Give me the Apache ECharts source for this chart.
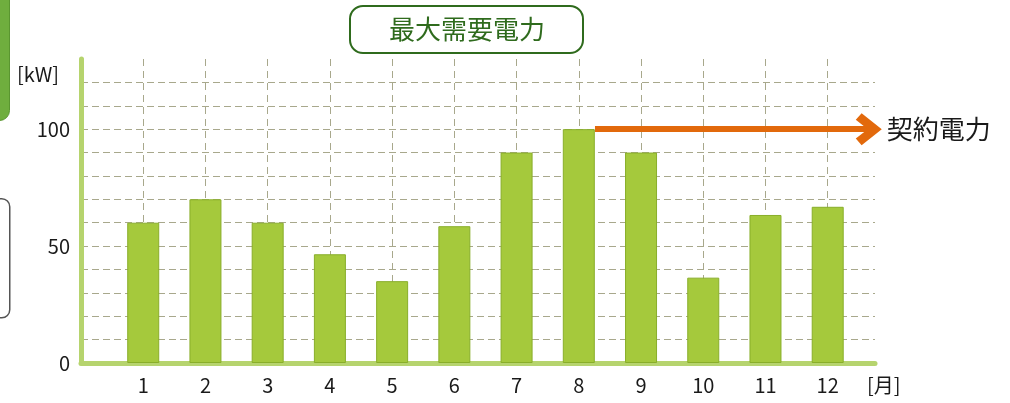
<!DOCTYPE html>
<html>
<head>
<meta charset="utf-8">
<script src="https://cdn.jsdelivr.net/npm/echarts@6/dist/echarts.min.js"></script>
<style>
html,body{margin:0;padding:0;background:#fff;}
#c{width:1010px;height:403px;}
</style>
</head>
<body>
<div id="c"></div>
<script>
// ---- data ----
const months = [1, 2, 3, 4, 5, 6, 7, 8, 9, 10, 11, 12];
const demandKW = [60, 70, 60, 46.5, 35, 58.5, 90, 100, 90, 36.5, 63.3, 66.8];
const yTickLabels = [0, 50, 100];
const contractKW = 100;
const contractFromMonth = 8.26;   // starts at the right edge of the August bar
const contractToMonth = 12.66;
const titleText = '最大需要電力';
const contractLabel = '契約電力';
const yUnit = '[kW]';
const xUnit = '[月]';

const FONT = '"Noto Sans CJK JP", "Noto Sans", sans-serif';
const gridDash = '#a8a88c';

const chart = echarts.init(document.getElementById('c'), null, {renderer: 'canvas'});

// split-line colours: hide the line at the axis maximum
const yLineCount = 14; // 0..130 step 10
const yLineColors = Array.from({length: yLineCount}, (_, i) => i === yLineCount - 1 ? 'rgba(0,0,0,0)' : gridDash);
const xLineCount = 14; // 0..12 plus max
const xLineColors = Array.from({length: xLineCount}, (_, i) => i === xLineCount - 1 ? 'rgba(0,0,0,0)' : gridDash);

const chevron = 'path://M5,0 L10,6.2 L7.9,8 L5,4.3 L2.1,8 L0,6.2 Z';

chart.setOption({
  animation: false,
  backgroundColor: '#ffffff',
  grid: {left: 81, right: 135, top: 59, bottom: 40, containLabel: false},
  xAxis: {
    type: 'value',
    min: 0,
    max: 12.76,
    interval: 1,
    axisLine: {show: true, lineStyle: {color: '#b6d46e', width: 5}},
    axisTick: {show: false},
    axisLabel: {
      showMaxLabel: false,
      margin: 12,
      fontSize: 20,
      fontFamily: FONT,
      color: '#1a1a1a',
      formatter: v => months.includes(v) ? String(v) : ''
    },
    splitLine: {show: true, lineStyle: {color: xLineColors, type: [7, 5], width: 1}}
  },
  yAxis: {
    type: 'value',
    min: 0,
    max: 130,
    interval: 10,
    axisLine: {show: true, lineStyle: {color: '#b6d46e', width: 5}},
    axisTick: {show: false},
    axisLabel: {
      margin: 11,
      fontSize: 20,
      fontFamily: FONT,
      color: '#1a1a1a',
      formatter: v => yTickLabels.includes(v) ? String(v) : ''
    },
    splitLine: {show: true, lineStyle: {color: yLineColors, type: [7, 4], width: 1}}
  },
  series: [
    {
      type: 'bar',
      z: 3,
      barWidth: 32,
      data: months.map((m, i) => [m, demandKW[i]]),
      itemStyle: {color: '#a5c93c', borderColor: '#89ae2a', borderWidth: 1}
    },
    {
      type: 'line',
      data: [],
      markLine: {
        silent: true,
        symbol: ['none', chevron],
        symbolSize: [32, 26],
        lineStyle: {color: '#e2690c', width: 6, type: 'solid'},
        label: {
          show: true,
          position: 'end',
          formatter: contractLabel,
          fontSize: 26,
          fontFamily: FONT,
          color: '#1a1a1a',
          distance: 18
        },
        data: [[
          {coord: [contractFromMonth, contractKW]},
          {coord: [contractToMonth, contractKW]}
        ]]
      }
    }
  ],
  graphic: [
    {type: 'rect', left: -20, top: -20, shape: {width: 29, height: 140, r: 10},
     style: {fill: '#6fae3e', stroke: '#5a9630', lineWidth: 1}},
    {type: 'rect', left: -20, top: 198, shape: {width: 29, height: 119, r: 8},
     style: {fill: '#ffffff', stroke: '#555555', lineWidth: 1.5}},
    {type: 'rect', left: 349, top: 5, shape: {width: 233, height: 47, r: 13},
     style: {fill: '#ffffff', stroke: '#2f6b1d', lineWidth: 2}},
    {type: 'text', x: 467, y: 29, style: {text: titleText, fill: '#2f6b1d', font: '26px ' + FONT, textAlign: 'center', textVerticalAlign: 'middle'}},
    {type: 'text', x: 17, y: 74, style: {text: yUnit, fill: '#1a1a1a', font: '20px ' + FONT, textVerticalAlign: 'middle'}},
    {type: 'text', x: 867, y: 385, style: {text: xUnit, fill: '#1a1a1a', font: '20px ' + FONT, textVerticalAlign: 'middle'}}
  ]
});
</script>
</body>
</html>
